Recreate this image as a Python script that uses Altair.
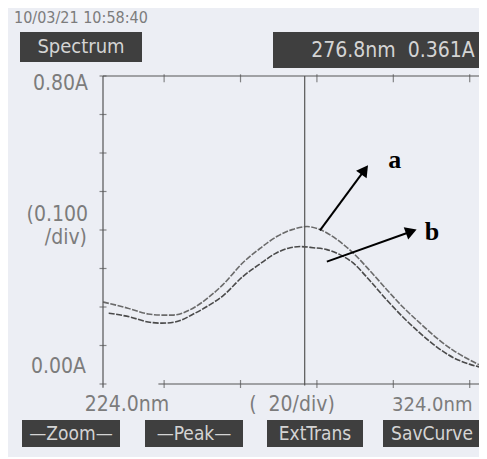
import altair as alt
import pandas as pd

# ---- data ----
wavelength_a = [224.0, 230.5, 235.8, 239.4, 242.0, 248.1, 252.0, 255.4, 260.6, 265.1, 269.5, 273.5,
                277.4, 280.8, 285.3, 289.4, 293.9, 298.3, 302.5, 307.0, 311.4, 315.6, 320.1, 324.0]
absorb_a = [0.213, 0.197, 0.182, 0.179, 0.179, 0.200, 0.228, 0.258, 0.315, 0.352, 0.383, 0.401,
            0.409, 0.401, 0.375, 0.341, 0.294, 0.245, 0.200, 0.158, 0.119, 0.088, 0.062, 0.043]
wavelength_b = [225.5, 231.1, 235.8, 239.4, 242.8, 248.1, 251.5, 255.4, 260.6, 265.1, 269.5, 273.0,
                275.6, 279.0, 282.6, 286.0, 289.4, 293.9, 298.3, 302.5, 307.0, 311.4, 315.6, 320.1, 324.0]
absorb_b = [0.184, 0.174, 0.161, 0.158, 0.161, 0.184, 0.203, 0.229, 0.279, 0.312, 0.341, 0.354,
            0.357, 0.354, 0.349, 0.336, 0.315, 0.268, 0.218, 0.174, 0.132, 0.096, 0.069, 0.051, 0.041]

x_range = [224.0, 324.0]
y_range = [0.0, 0.8]
y_ticks = [0.0, 0.1, 0.2, 0.3, 0.4, 0.5, 0.6, 0.7, 0.8]
x_ticks = [240, 260, 280, 300, 320]
cursor_nm = 276.8

arrow_labels = ["a", "b"]
arrow_tail_x = [280.8, 282.6]
arrow_tail_y = [0.399, 0.318]
arrow_head_x = [292.5, 304.7]
arrow_head_y = [0.556, 0.396]
arrow_angle = [36, 70]
label_x = [300.4, 310.1]
label_y = [0.582, 0.395]

NB = "\u00a0"
header_date = "10/03/21 10:58:40"
mode_label = "Spectrum"
reading_label = "276.8nm" + NB * 2 + "0.361A"
y_top_label = "0.80A"
y_div_label = ["(0.100", "/div)"]
y_bottom_label = "0.00A"
x_left_label = "224.0nm"
x_div_label = "(" + NB * 2 + "20/div)"
x_right_label = "324.0nm"
buttons = ["—Zoom—", "—Peak—", "ExtTrans", "SavCurve"]

# ---- layout (pixels relative to plot origin) ----
W, H = 382, 308
LCD_FONT = "Liberation Sans Narrow, DejaVu Sans Condensed, DejaVu Sans Mono"
GRAY = "#7c7c7c"
BOX = "#3f3f3f"
BOXTXT = "#d4d4d4"
LINE = "#555555"

X = alt.Scale(domain=x_range, nice=False, zero=False)
Y = alt.Scale(domain=y_range, nice=False, zero=False)

df_a = pd.DataFrame({"nm": wavelength_a, "A": absorb_a})
df_b = pd.DataFrame({"nm": wavelength_b, "A": absorb_b})

curve_a = alt.Chart(df_a).mark_line(color="#6a6a6a", strokeWidth=1.6, strokeDash=[6, 1.5],
                                    interpolate="monotone").encode(
    x=alt.X("nm:Q", scale=X, axis=None), y=alt.Y("A:Q", scale=Y, axis=None))
curve_b = alt.Chart(df_b).mark_line(color="#4a4a4a", strokeWidth=1.6, strokeDash=[6, 1.5],
                                    interpolate="monotone").encode(
    x=alt.X("nm:Q", scale=X, axis=None), y=alt.Y("A:Q", scale=Y, axis=None))

frame_h = pd.DataFrame({"x0": [x_range[0], 238.5], "x1": [x_range[1], x_range[1]],
                        "y": [y_range[1], y_range[0]]})
frame_h_l = alt.Chart(frame_h).mark_rule(color=LINE, strokeWidth=1.2).encode(
    x=alt.X("x0:Q", scale=X, axis=None), x2="x1:Q", y=alt.Y("y:Q", scale=Y, axis=None))

frame_v = pd.DataFrame({"x": [x_range[0], cursor_nm], "y0": [-0.01, -0.004], "y1": [y_range[1], y_range[1]]})
frame_v_l = alt.Chart(frame_v).mark_rule(color=LINE, strokeWidth=1.2).encode(
    x=alt.X("x:Q", scale=X, axis=None), y=alt.Y("y0:Q", scale=Y, axis=None), y2="y1:Q")

yt = pd.DataFrame({"x": [x_range[0]] * len(y_ticks), "y": y_ticks})
yt_l = alt.Chart(yt).mark_tick(orient="horizontal", color=LINE, size=7, thickness=1.2).encode(
    x=alt.X("x:Q", scale=X, axis=None), y=alt.Y("y:Q", scale=Y, axis=None))

xt = pd.DataFrame({"x": x_ticks * 2, "y": [y_range[0]] * len(x_ticks) + [y_range[1] - 0.006] * len(x_ticks)})
xt_l = alt.Chart(xt).mark_tick(orient="vertical", color=LINE, size=8, thickness=1.2).encode(
    x=alt.X("x:Q", scale=X, axis=None), y=alt.Y("y:Q", scale=Y, axis=None))

arrows = pd.DataFrame({"lab": arrow_labels, "tx": arrow_tail_x, "ty": arrow_tail_y,
                       "hx": arrow_head_x, "hy": arrow_head_y, "ang": arrow_angle,
                       "lx": label_x, "ly": label_y})
arrow_lines = alt.Chart(arrows).mark_rule(color="black", strokeWidth=2).encode(
    x=alt.X("tx:Q", scale=X, axis=None), y=alt.Y("ty:Q", scale=Y, axis=None), x2="hx:Q", y2="hy:Q")
arrow_heads = alt.Chart(arrows).mark_point(shape="triangle-up", filled=True, color="black",
                                           opacity=1, size=170).encode(
    x=alt.X("hx:Q", scale=X, axis=None), y=alt.Y("hy:Q", scale=Y, axis=None),
    angle=alt.Angle("ang:Q", scale=None))
arrow_text = alt.Chart(arrows).mark_text(font="Liberation Serif", fontWeight="bold", fontSize=26,
                                         color="black", baseline="middle").encode(
    x=alt.X("lx:Q", scale=X, axis=None), y=alt.Y("ly:Q", scale=Y, axis=None), text="lab:N")

layers = [curve_a, curve_b, frame_h_l, frame_v_l, yt_l, xt_l, arrow_lines, arrow_heads, arrow_text]

# screen decorations (pixel positions relative to the plot origin)
def box(x0, x1, y0, y1):
    return alt.Chart(pd.DataFrame({"k": [0]})).mark_rect(color=BOX).encode(
        x=alt.value(x0), x2=alt.value(x1), y=alt.value(y0), y2=alt.value(y1))

def label(t, x, y, color=GRAY, align="center", size=20, font=LCD_FONT):
    return alt.Chart(pd.DataFrame({"t": [t]})).mark_text(
        color=color, align=align, baseline="middle", fontSize=size, font=font).encode(
        x=alt.value(x), y=alt.value(y), text="t:N")

layers += [
    box(-83, 39, -44, -14), box(170, 386, -44, -8),
    box(-81, 17, 344, 371), box(42, 140, 344, 371), box(164, 260, 344, 371), box(280, 386, 344, 371),
    label(header_date, -89, -58, align="left", size=16),
    label(mode_label, -22, -29, color=BOXTXT),
    label(reading_label, 290, -25, color=BOXTXT, size=21),
    label(y_top_label, -15, 8, align="right", size=21),
    label(y_div_label[0], -15, 139, align="right", size=21),
    label(y_div_label[1], -16, 162, align="right", size=21),
    label(y_bottom_label, -17, 291, align="right", size=21),
    label(x_left_label, 24, 329, size=21),
    label(x_div_label, 189, 329, size=21),
    label(x_right_label, 289, 329, align="left", size=20),
]
for t, cx in zip(buttons, [-32, 91, 212, 329]):
    layers.append(label(t, cx, 358, color=BOXTXT, size=19))

chart = alt.layer(*layers).properties(
    width=W, height=H,
    padding={"left": 95, "top": 68, "right": -6, "bottom": 73},
    autosize=alt.AutoSizeParams(type="none"),
    background="#eceef4",
).configure_view(stroke=None)

chart.save("out.html", embed_options={"renderer": "svg", "actions": False})
